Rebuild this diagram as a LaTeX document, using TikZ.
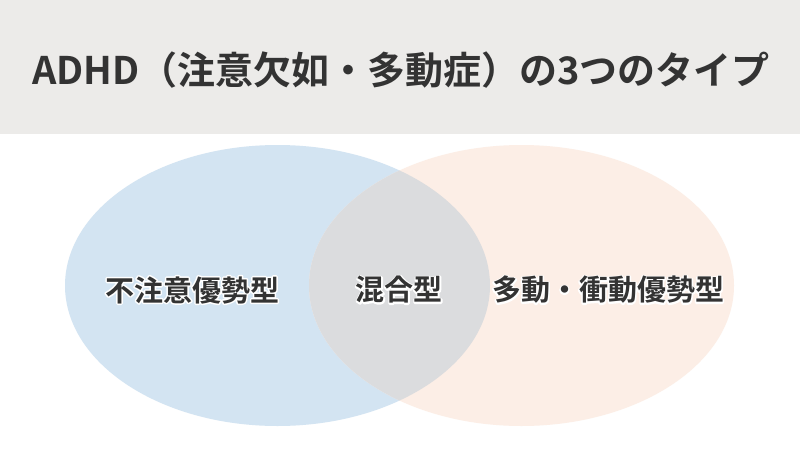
\documentclass[tikz,border=0pt]{standalone}
\usepackage{fontspec}
\setmainfont{Noto Sans CJK JP Bold}
\newfontfamily\jp{Noto Sans CJK JP Bold}
\definecolor{hdrbg}{RGB}{236,235,233}
\definecolor{leftc}{RGB}{211,228,242}
\definecolor{rightc}{RGB}{252,238,230}
\definecolor{midc}{RGB}{219,220,222}
\definecolor{txt}{RGB}{51,51,51}
\newcommand{\halotext}[1]{\rlap{\color{white}\special{pdf:literal direct 2 Tr 3 w 1 j}#1\special{pdf:literal direct 0 Tr 1 w}}#1}
\begin{document}
\begin{tikzpicture}[x=1pt,y=-1pt,
  titletext/.style={font=\jp\fontsize{38}{46}\selectfont, text=txt, inner sep=0pt},
  labeltext/.style={font=\jp\fontsize{29}{35}\selectfont, text=txt, inner sep=0pt}]
\useasboundingbox (0,0) rectangle (800,450);
\fill[white] (0,0) rectangle (800,450);
\fill[hdrbg] (0,0) rectangle (800,134);
\node[titletext] (title) at (401,70) {ADHD（注意欠如・多動症）の3つのタイプ};
\fill[leftc] (277.5,285.5) ellipse [x radius=212.5pt, y radius=140.5pt];
\fill[rightc] (521.5,285.5) ellipse [x radius=212.5pt, y radius=140.5pt];
\begin{scope}
\clip (277.5,285.5) ellipse [x radius=212.5pt, y radius=140.5pt];
\fill[midc] (521.5,285.5) ellipse [x radius=212.5pt, y radius=140.5pt];
\end{scope}
\node[labeltext] (inatt) at (192,290) {\halotext{不注意優勢型}};
\node[labeltext] (comb) at (399,290) {\halotext{混合型}};
\node[labeltext] (hyper) at (608,290) {\halotext{多動・衝動優勢型}};
\end{tikzpicture}
\end{document}
